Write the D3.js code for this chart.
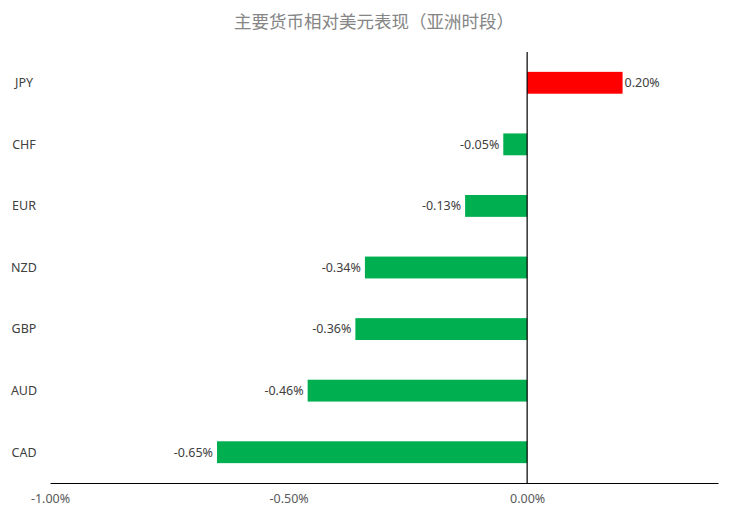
<!DOCTYPE html>
<html>
<head>
<meta charset="utf-8">
<script src="https://cdn.jsdelivr.net/npm/d3@7"></script>
<style>
  body { margin: 0; background: #fff; }
  text { font-family: "Noto Sans", "Open Sans", sans-serif; }
</style>
</head>
<body>
<div id="chart"></div>
<script>
// Data
var currencies = ["JPY", "CHF", "EUR", "NZD", "GBP", "AUD", "CAD"];
var changes = [0.20, -0.05, -0.13, -0.34, -0.36, -0.46, -0.65];
var tickValues = [-1.0, -0.5, 0.0];
var titleText = "主要货币相对美元表现（亚洲时段）";

// Chart set up
var svgWidth = 752;
var svgHeight = 519;

var margin = { top: 52, right: 34, bottom: 36, left: 50 };
var width = svgWidth - margin.left - margin.right;
var height = svgHeight - margin.top - margin.bottom;

var svg = d3.select("#chart")
  .append("svg")
  .attr("width", svgWidth)
  .attr("height", svgHeight);

var chartGroup = svg.append("g")
  .attr("transform", `translate(${margin.left}, ${margin.top})`);

var rows = currencies.map((c, i) => ({ name: c, value: changes[i] }));

// percent label with a plain hyphen, like the original
var pct = d => d3.format(".2f")(d).replace("\u2212", "-") + "%";

// Scales
var xScale = d3.scaleLinear()
  .domain([-1.0, 0.4])
  .range([0, width]);

var yScale = d3.scaleBand()
  .domain(currencies)
  .range([0, height])
  .paddingInner(0.645)
  .paddingOuter(0.3225);

// Title
svg.append("text")
  .attr("x", 374)
  .attr("y", 28)
  .attr("text-anchor", "middle")
  .attr("fill", "#858585")
  .style("font-family", "'Noto Sans CJK SC', sans-serif")
  .style("font-size", "17.5px")
  .text(titleText);

// Bars
chartGroup.selectAll(".bar")
  .data(rows)
  .enter()
  .append("rect")
  .attr("class", "bar")
  .attr("x", d => xScale(Math.min(0, d.value)))
  .attr("y", d => yScale(d.name))
  .attr("width", d => Math.abs(xScale(d.value) - xScale(0)))
  .attr("height", yScale.bandwidth())
  .attr("fill", d => d.value >= 0 ? "#ff0000" : "#00b050");

// Value labels
chartGroup.selectAll(".val")
  .data(rows)
  .enter()
  .append("text")
  .attr("class", "val")
  .attr("x", d => d.value >= 0 ? xScale(d.value) + 2 : xScale(d.value) - 4)
  .attr("y", d => yScale(d.name) + yScale.bandwidth() / 2)
  .attr("dy", "0.35em")
  .attr("text-anchor", d => d.value >= 0 ? "start" : "end")
  .attr("fill", "#404040")
  .style("font-size", "12.5px")
  .text(d => pct(d.value));

// Category labels
chartGroup.selectAll(".cat")
  .data(currencies)
  .enter()
  .append("text")
  .attr("class", "cat")
  .attr("x", 24 - margin.left)
  .attr("y", d => yScale(d) + yScale.bandwidth() / 2)
  .attr("dy", "0.35em")
  .attr("text-anchor", "middle")
  .attr("fill", "#404040")
  .style("font-size", "12.5px")
  .text(d => d);

// Zero line
chartGroup.append("line")
  .attr("x1", xScale(0))
  .attr("x2", xScale(0))
  .attr("y1", 0)
  .attr("y2", height)
  .attr("stroke", "#000")
  .attr("stroke-width", 1.2);

// Bottom axis
var xAxis = d3.axisBottom(xScale)
  .tickValues(tickValues)
  .tickSize(0)
  .tickPadding(11)
  .tickFormat(pct);

var axisG = chartGroup.append("g")
  .attr("transform", `translate(0, ${height})`)
  .call(xAxis);

axisG.select(".domain").attr("stroke", "#000").attr("stroke-width", 1.2);
axisG.selectAll("text")
  .attr("fill", "#595959")
  .style("font-family", "'Noto Sans', sans-serif")
  .style("font-size", "12.5px");
</script>
</body>
</html>
